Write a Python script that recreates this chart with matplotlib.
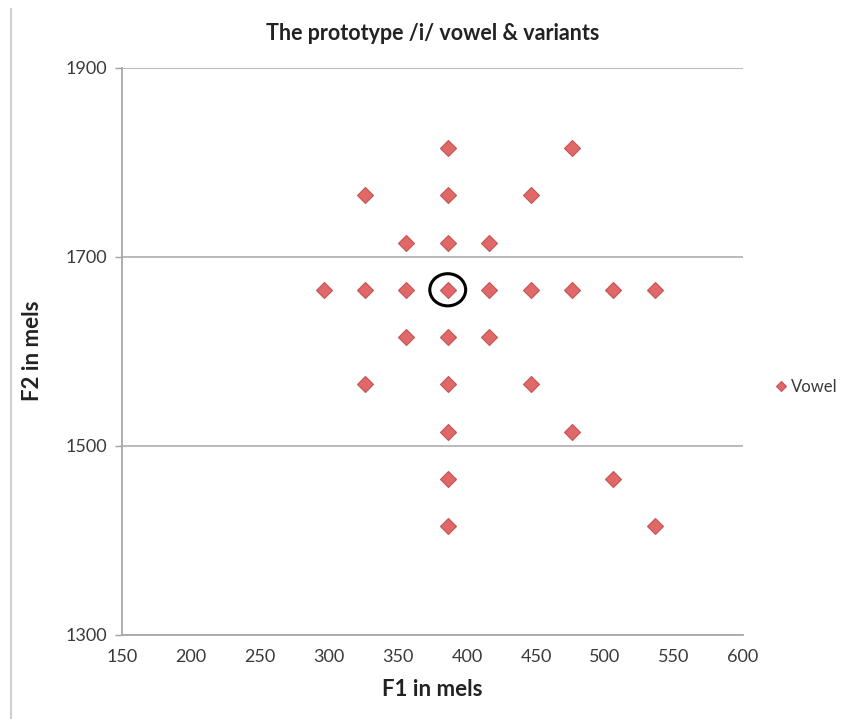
import matplotlib
matplotlib.use('Agg')
import matplotlib.pyplot as plt
from matplotlib.patches import Ellipse
from matplotlib.lines import Line2D

plt.rcParams['font.family'] = ['Lato', 'DejaVu Sans']

# F1 / F2 values in mels
f1 = [386, 476,
      326, 386, 446,
      356, 386, 416,
      296, 326, 356, 386, 416, 446, 476, 506, 536,
      356, 386, 416,
      326, 386, 446,
      386, 476,
      386, 506,
      386, 536]
f2 = [1815, 1815,
      1765, 1765, 1765,
      1715, 1715, 1715,
      1665, 1665, 1665, 1665, 1665, 1665, 1665, 1665, 1665,
      1615, 1615, 1615,
      1565, 1565, 1565,
      1515, 1515,
      1465, 1465,
      1415, 1415]
prototype = (386, 1665)
x_ticks = [150, 200, 250, 300, 350, 400, 450, 500, 550, 600]
y_ticks = [1300, 1500, 1700, 1900]

fig = plt.figure(figsize=(8.54, 7.19), dpi=100)
ax = fig.add_axes([0.143, 0.117, 0.727, 0.789])

ax.plot(f1, f2, linestyle='none', marker='D', markersize=8,
        markerfacecolor='#e06868', markeredgecolor='#c25555', markeredgewidth=0.8,
        label='Vowel', zorder=3)

ring = Ellipse(prototype, width=26, height=34, fill=False, edgecolor='black', linewidth=2.2, zorder=4)
ax.add_patch(ring)

ax.set_xlim(150, 600)
ax.set_ylim(1300, 1900)
ax.set_xticks(x_ticks)
ax.set_yticks(y_ticks)
ax.tick_params(axis='both', labelsize=13, labelcolor='#3a3a3a', colors='#a0a0a0')
ax.tick_params(axis='x', length=0, pad=10)
ax.tick_params(axis='y', length=5, width=1, pad=6)
ax.yaxis.grid(True, color='#b5b5b5', linewidth=1.3)
ax.set_axisbelow(True)
for s in ['top', 'right']:
	ax.spines[s].set_visible(False)
for s in ['left', 'bottom']:
	ax.spines[s].set_color('#a8a8a8')
	ax.spines[s].set_linewidth(1.3)

ax.set_title('The prototype /i/ vowel & variants', fontsize=15.5, fontweight='bold', color='#222222', pad=20)
ax.set_xlabel('F1 in mels', fontsize=16, fontweight='bold', color='#222222', labelpad=10)
ax.set_ylabel('F2 in mels', fontsize=16, fontweight='bold', color='#222222', labelpad=16)

leg = ax.legend(loc='center left', bbox_to_anchor=(1.0, 0.437), frameon=False, fontsize=12,
                handlelength=0.6, handletextpad=0.25, markerscale=0.65, borderaxespad=1.6)
for t in leg.get_texts():
	t.set_color('#3a3a3a')

# thin frame line on the left of the chart area
fig.add_artist(Line2D([0.013, 0.013], [0.0, 0.987], color='#d0d0d0', linewidth=1.5))

fig.savefig('out.png', dpi=100)
